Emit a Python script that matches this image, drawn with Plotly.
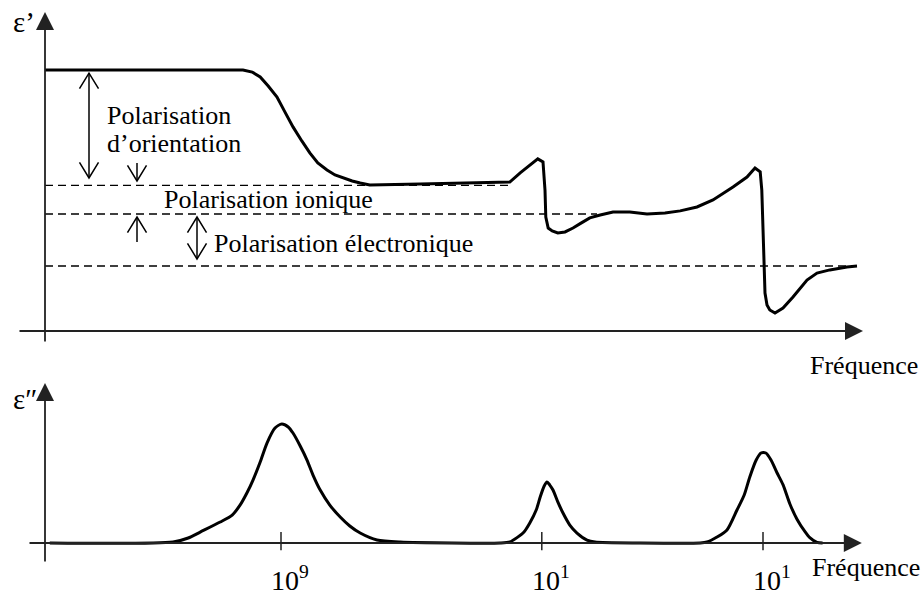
import plotly.graph_objects as go

# ---------------- data (arbitrary units) ----------------
# x : position along the log-frequency axis (0 = origin)
# eps1 : real part ε'  (top panel), eps2 : imaginary part ε''  (bottom panel)
EPS1_X = [0, 13.1, 24.75, 25.9, 26.9, 27.9, 29.0, 30.0, 31.0, 32.1, 33.1, 34.1, 35.25, 36.25,
          37.25, 38.4, 39.4, 40.6, 46.9, 54.4, 58.1, 59.4, 60.6, 61.6, 62.25, 62.5, 62.6, 62.9,
          63.4, 64.1, 65.0, 66.0, 67.0, 68.1, 69.4, 71.0, 73.1, 75.25, 77.5, 79.4, 81.5, 83.5,
          86.0, 87.75, 88.75, 89.4, 89.6, 89.75, 89.9, 90.0, 90.25, 90.6, 91.25, 92.25, 93.5,
          95.25, 96.5, 98.1, 100.25, 101.5]
EPS1_Y = [10.04, 10.04, 10.04, 9.96, 9.77, 9.42, 9.0, 8.42, 7.85, 7.31, 6.85, 6.46, 6.19, 6.0,
          5.88, 5.77, 5.69, 5.62, 5.65, 5.69, 5.73, 6.08, 6.38, 6.62, 6.5, 5.42, 4.38, 3.96,
          3.85, 3.77, 3.81, 3.96, 4.15, 4.35, 4.46, 4.58, 4.58, 4.5, 4.54, 4.62, 4.77, 5.04,
          5.54, 5.92, 6.27, 6.12, 5.42, 3.88, 2.73, 1.46, 1.0, 0.81, 0.69, 0.88, 1.31,
          1.96, 2.23, 2.35, 2.46, 2.5]

EPS2_X = [0.6, 16.0, 17.9, 19.4, 21.9, 23.4, 24.4, 25.25, 26.0, 26.9, 27.75, 28.75, 29.6, 30.4,
          31.0, 31.9, 32.75, 33.5, 34.4, 35.6, 36.9, 38.1, 39.4, 41.5, 44.4, 56.9,
          58.1, 59.0, 59.9, 60.6, 61.4, 61.9, 62.4, 62.75, 63.1, 63.5, 64.1, 64.75, 65.6, 66.5,
          67.75, 68.75, 74.4, 81.9, 82.75, 84.0, 85.25, 86.5, 87.4, 88.1, 88.9, 89.5, 90.1,
          90.75, 91.5, 92.25, 93.1, 94.0, 95.0, 95.6, 96.5, 97.2]
EPS2_Y = [0, 0.08, 0.42, 0.92, 1.76, 2.35, 3.2, 4.22, 5.29, 6.81, 8.4, 9.66, 10.0, 9.75,
          9.24, 8.15, 6.97, 5.71, 4.45, 3.19, 2.18, 1.43, 0.84, 0.25, 0.08, 0,
          0.08, 0.45, 0.95, 1.68, 2.77, 3.87, 4.79, 5.13, 4.87, 4.45, 3.45, 2.52, 1.51, 0.84,
          0.25, 0.08, 0, 0, 0.08, 0.5, 1.09, 2.77, 4.03, 5.55, 6.97, 7.56, 7.56,
          6.97, 5.9, 4.9, 3.3, 2.0, 0.95, 0.45, 0.05, 0]

# dashed reference levels of ε' and where each dashed line stops
LEVELS = [5.6, 4.5, 2.5]
LEVEL_END = [58.0, 69.0, 101.5]

# polarisation arrows (vertical): x, start level, head level, double-headed?
ARROW_X = [5.5, 11.5, 11.5, 19.0]
ARROW_FROM = [9.92, 6.46, 3.42, 2.77]
ARROW_TO = [5.885, 5.77, 4.385, 4.385]
ARROW_BOTH = [True, False, False, True]

# resonance frequencies on the lower axis and their labels
TICK_X = [29.5, 62.1, 89.75]
TICK_LABELS = ["10<sup>9</sup>", "10<sup>1</sup>", "10<sup>1</sup>"]

FONT = "Liberation Serif, Times New Roman, serif"
BLACK = "#000000"
AXC = "#222222"

fig = go.Figure()

# top curve
fig.add_trace(go.Scatter(x=EPS1_X, y=EPS1_Y, mode="lines", xaxis="x", yaxis="y",
                         line=dict(color=BLACK, width=3), hoverinfo="skip", showlegend=False))
# dashed levels
for lv, xe in zip(LEVELS, LEVEL_END):
    fig.add_trace(go.Scatter(x=[0, xe], y=[lv, lv], mode="lines", xaxis="x", yaxis="y",
                             line=dict(color=BLACK, width=1.3, dash="8px,5px"),
                             hoverinfo="skip", showlegend=False))

# polarisation arrows with thin open V heads
HW, HL = 1.19, 0.6   # head half-width (x units) and length (y units)
axs, ays = [], []


def vhead(x, tip, frm):
    d = HL if frm < tip else -HL
    return [x - HW, x, x + HW, None], [tip - d, tip, tip - d, None]


for x, y0, y1, both in zip(ARROW_X, ARROW_FROM, ARROW_TO, ARROW_BOTH):
    axs += [x, x, None]
    ays += [y0, y1, None]
    hx, hy = vhead(x, y1, y0)
    axs += hx
    ays += hy
    if both:
        hx, hy = vhead(x, y0, y1)
        axs += hx
        ays += hy
fig.add_trace(go.Scatter(x=axs, y=ays, mode="lines", xaxis="x", yaxis="y",
                         line=dict(color=BLACK, width=1.5), hoverinfo="skip", showlegend=False))

# bottom curve
fig.add_trace(go.Scatter(x=EPS2_X, y=EPS2_Y, mode="lines", xaxis="x2", yaxis="y2",
                         line=dict(color=BLACK, width=3, shape="spline", smoothing=0.7),
                         hoverinfo="skip", showlegend=False))
# tick marks on bottom axis
tx, ty = [], []
for t in TICK_X:
    tx += [t, t, None]
    ty += [0.92, -0.6, None]
fig.add_trace(go.Scatter(x=tx, y=ty, mode="lines", xaxis="x2", yaxis="y2",
                         line=dict(color=AXC, width=1.5), hoverinfo="skip", showlegend=False))

ann = []


def arrow(x0, y0, x1, y1, xr, yr):
    ann.append(dict(x=x1, y=y1, ax=x0, ay=y0, xref=xr, yref=yr, axref=xr, ayref=yr,
                    text="", showarrow=True, arrowhead=2, arrowsize=2.0, arrowwidth=1.8,
                    arrowcolor=AXC, standoff=0))


# axes with arrowheads
arrow(0, -0.46, 0, 12.27, "x", "y")
arrow(-3.375, 0, 102.25, 0, "x", "y")
arrow(0, -1.68, 0, 13.45, "x2", "y2")
arrow(-2.125, 0, 102.1, 0, "x2", "y2")


def label(txt, x, y, xr, yr, size, xanchor="left", xshift=0):
    ann.append(dict(x=x, y=y, xref=xr, yref=yr, text=txt, showarrow=False,
                    xanchor=xanchor, yanchor="middle", align="left", xshift=xshift,
                    font=dict(family=FONT, size=size, color=BLACK)))


label("Polarisation", 7.5, 8.3, "x", "y", 26)
label("d’orientation", 7.5, 7.2, "x", "y", 26)
label("Polarisation ionique", 14.6, 5.04, "x", "y", 26)
label("Polarisation électronique", 20.9, 3.38, "x", "y", 26)
label("Fréquence", 95.4, -1.31, "x", "y", 26)
label("ε’", -2.6, 11.88, "x", "y", 29, "center")
label("ε″", -2.5, 12.1, "x2", "y2", 29, "center")
label("Fréquence", 95.6, -2.1, "x2", "y2", 26)
for t, s in zip(TICK_X, TICK_LABELS):
    label(s, t, -3.0, "x2", "y2", 28, "center", 9)

XR = [-5.625, 109.75]
ax_off = dict(visible=False, showgrid=False, zeroline=False, fixedrange=True)
fig.update_layout(
    width=923, height=597, autosize=False,
    margin=dict(l=0, r=0, t=0, b=0, pad=0),
    paper_bgcolor="white", plot_bgcolor="white",
    xaxis=dict(domain=[0, 1], range=XR, anchor="y", **ax_off),
    yaxis=dict(domain=[0.36348, 1], range=[-1.885, 12.731], anchor="x", **ax_off),
    xaxis2=dict(domain=[0, 1], range=XR, anchor="y2", **ax_off),
    yaxis2=dict(domain=[0, 0.36348], range=[-4.538, 13.697], anchor="x2", **ax_off),
    annotations=ann,
    showlegend=False,
)

fig.write_html("out.html", config={"displayModeBar": False},
               post_script="document.body.style.margin='0px';document.body.style.overflow='hidden';")
